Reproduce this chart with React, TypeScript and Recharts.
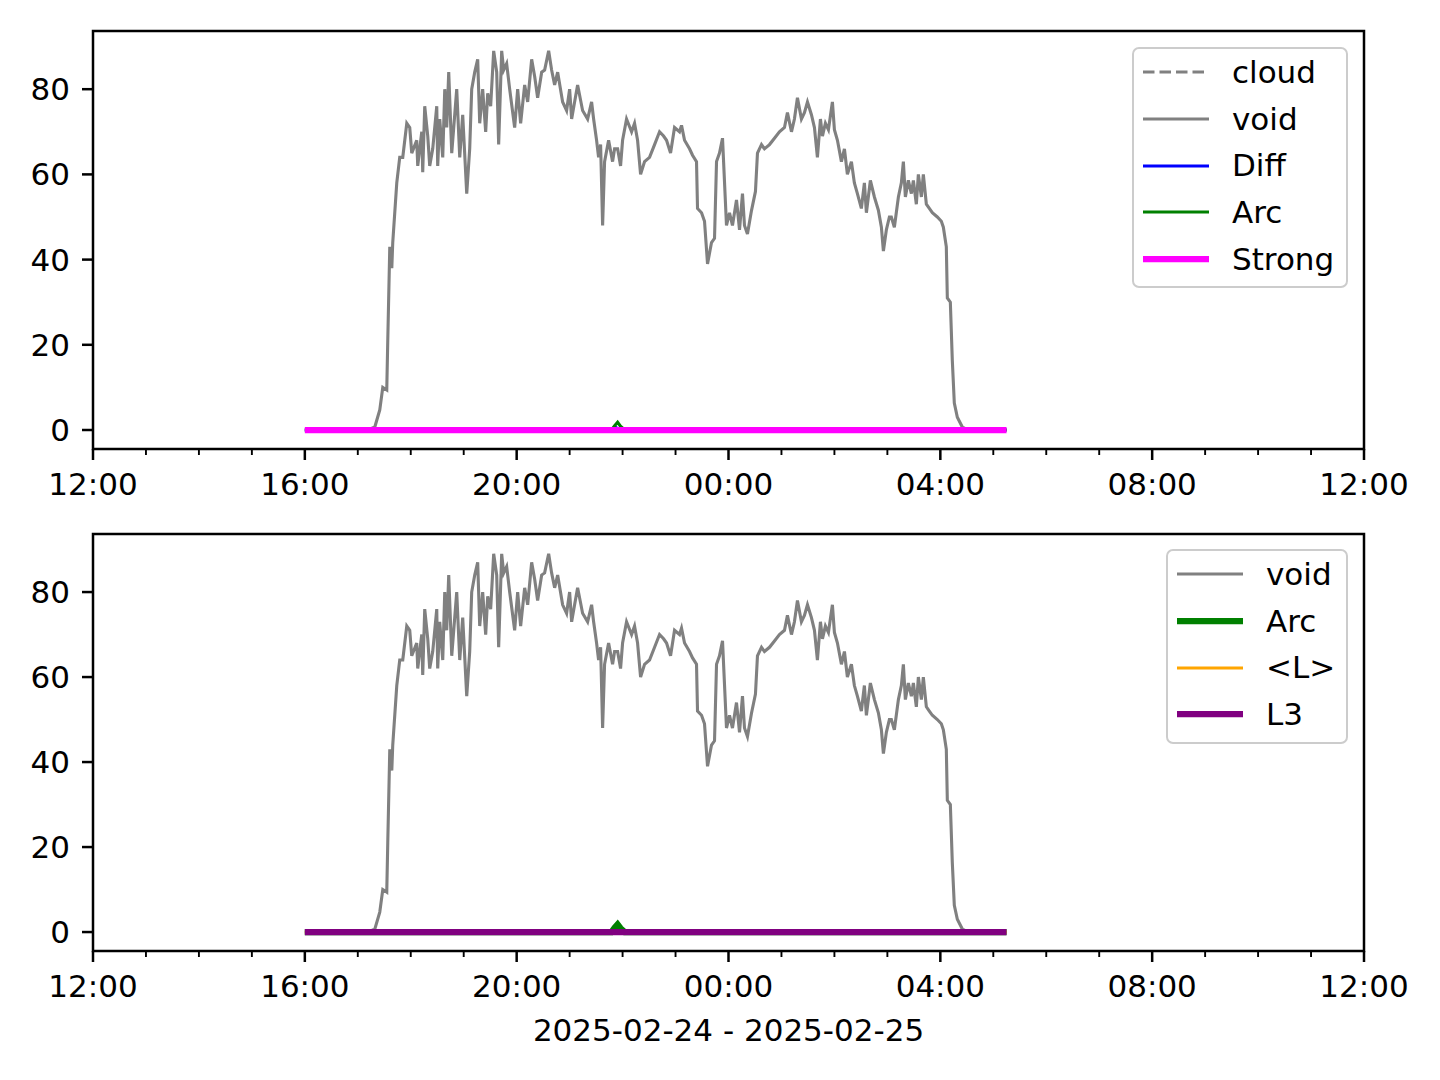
import React from 'react';
import { LineChart, Line, XAxis, YAxis, ReferenceArea, Legend } from 'recharts';

const FONT = '"DejaVu Sans", sans-serif';

// hours after 12:00 on 2025-02-24
const VOID_HOURS = [
  4.0, 5.226, 5.321, 5.415, 5.472, 5.547, 5.566, 5.604, 5.642, 5.66, 5.736, 5.792, 5.849, 5.925, 5.981,
  6.019, 6.113, 6.132, 6.208, 6.226, 6.264, 6.321, 6.358, 6.415, 6.491, 6.509, 6.547, 6.604, 6.642, 6.679,
  6.717, 6.774, 6.868, 6.925, 6.981, 7.057, 7.113, 7.151, 7.208, 7.264, 7.302, 7.358, 7.415, 7.453, 7.509,
  7.566, 7.623, 7.66, 7.717, 7.755, 7.811, 7.868, 7.962, 8.019, 8.075, 8.151, 8.208, 8.283, 8.34, 8.396,
  8.472, 8.528, 8.604, 8.66, 8.717, 8.774, 8.868, 8.943, 9.0, 9.038, 9.094, 9.151, 9.245, 9.34, 9.415,
  9.453, 9.509, 9.547, 9.585, 9.623, 9.66, 9.736, 9.811, 9.849, 9.906, 9.962, 10.0, 10.075, 10.17, 10.226,
  10.283, 10.34, 10.415, 10.509, 10.604, 10.698, 10.774, 10.83, 10.906, 10.981, 11.075, 11.113, 11.17, 11.264, 11.321,
  11.396, 11.415, 11.491, 11.547, 11.604, 11.679, 11.736, 11.774, 11.83, 11.887, 11.962, 12.019, 12.075, 12.151, 12.208,
  12.264, 12.302, 12.358, 12.434, 12.509, 12.547, 12.623, 12.679, 12.774, 12.868, 12.962, 13.057, 13.113, 13.189, 13.245,
  13.302, 13.377, 13.434, 13.491, 13.566, 13.623, 13.679, 13.736, 13.774, 13.83, 13.887, 13.962, 14.0, 14.057, 14.132,
  14.189, 14.245, 14.321, 14.377, 14.434, 14.509, 14.566, 14.604, 14.679, 14.755, 14.83, 14.887, 14.925, 14.981, 15.038,
  15.075, 15.132, 15.208, 15.264, 15.302, 15.34, 15.396, 15.453, 15.491, 15.547, 15.585, 15.642, 15.679, 15.736, 15.792,
  15.849, 15.943, 16.019, 16.057, 16.113, 16.132, 16.189, 16.226, 16.264, 16.321, 16.415, 16.491, 17.25,
];
const VOID_VALUES = [
  0, 0.2, 0.7, 4.7, 10, 9.4, 21, 43, 38, 44, 58, 64, 64, 72, 71,
  65, 68, 62, 70, 60.5, 76, 69, 62, 66, 76, 62, 73, 64, 80, 71,
  84, 65, 80, 64, 74, 55.5, 66, 80, 84, 87, 72, 80, 70, 79, 76,
  89, 84, 67, 89, 84.5, 86, 80, 71, 80, 72, 81, 77, 87, 83, 78,
  84, 84.5, 89, 84.5, 81, 84, 77, 75, 80, 73, 77, 81, 75, 73, 77,
  73, 68, 64, 67, 48, 63, 68, 63, 66, 66, 62, 68, 73, 70, 72,
  68, 60, 63, 64, 67, 70, 69, 68, 65, 71, 70, 71.5, 68, 66, 64.5,
  63, 52, 51, 49, 39, 44, 45, 63, 65, 68.5, 48, 51, 48, 54, 47,
  55.5, 48, 46, 51.5, 56, 65, 67, 66, 67, 68.5, 70, 71, 74.5, 70, 73,
  78, 73, 74.5, 77, 74, 71, 64, 73, 69, 72, 70.5, 77, 70.5, 68, 63,
  66, 60, 63, 58, 55.5, 52, 58, 51, 58.6, 54.7, 51.6, 47.6, 42, 47, 50,
  50, 47.6, 54.7, 58, 63, 54.7, 58.6, 55.5, 58.6, 53, 60, 54.7, 60, 53, 52,
  51, 50, 49, 47.6, 43, 31, 30, 16.4, 6.3, 3, 0.7, 0.2, 0,
];
const ARC_HOURS = [4.0, 9.79, 9.85, 9.906, 9.96, 10.04, 17.25];
const ARC_VALUES = [0, 0, 1.0, 1.8, 0.9, 0, 0];
const DIFF_HOURS = [4.0, 9.8, 9.87, 9.95, 17.25];
const DIFF_VALUES = [0, 0, 0.6, 0, 0];
const FLAT_HOURS = [4.0, 17.25];
const STRONG_VALUES = [0, 0];
const MEAN_L_VALUES = [0, 0];
const L3_VALUES = [0, 0];

const X_DOMAIN = [0, 24];
const X_TICKS = [0, 1, 2, 3, 4, 5, 6, 7, 8, 9, 10, 11, 12, 13, 14, 15, 16, 17, 18, 19, 20, 21, 22, 23, 24];
const Y_DOMAIN = [-4.46, 93.66];
const Y_TICKS = [0, 20, 40, 60, 80];
const DATE_LABEL = '2025-02-24 - 2025-02-25';

const toPoints = (hours: number[], values: number[]) => hours.map((t, i) => ({ t, v: values[i] }));

const fmtHour = (h: number) => {
  const hh = (12 + h) % 24;
  return `${hh < 10 ? '0' : ''}${hh}:00`;
};

const XTick = (props: any) => {
  const { x, y, payload } = props;
  const major = payload.value % 4 === 0;
  return (
    <g>
      <line x1={x} x2={x} y1={y} y2={y + (major ? 11 : 6)} stroke="#000" strokeWidth={major ? 2.5 : 1.9} />
      {major && (
        <text x={x} y={y + 45.5} textAnchor="middle" fontSize={31} fill="#000" fontFamily={FONT}>
          {fmtHour(payload.value)}
        </text>
      )}
    </g>
  );
};

type LegendItem = { name: string; color: string; width: number; dash?: string };

const LegendBox = ({ items, width, height }: { items: LegendItem[]; width: number; height: number }) => (
  <div
    style={{
      width,
      height,
      boxSizing: 'border-box',
      border: '2px solid #cccccc',
      borderRadius: 7,
      background: 'rgba(255,255,255,0.8)',
      paddingLeft: 9,
      fontFamily: FONT,
    }}
  >
    {items.map((it) => (
      <div key={it.name} style={{ display: 'flex', alignItems: 'center', height: 46.7 }}>
        <svg width={66} height={10} style={{ display: 'block' }}>
          <line x1={0} x2={66} y1={5} y2={5} stroke={it.color} strokeWidth={it.width} strokeDasharray={it.dash} />
        </svg>
        <span style={{ marginLeft: 23, fontSize: 31, lineHeight: '31px', color: '#000', whiteSpace: 'pre' }}>{it.name}</span>
      </div>
    ))}
  </div>
);

const TOP_LEGEND: LegendItem[] = [
  { name: 'cloud', color: '#808080', width: 3.1, dash: '11.5 5' },
  { name: 'void', color: '#808080', width: 3.1 },
  { name: 'Diff', color: '#0000ff', width: 3.1 },
  { name: 'Arc', color: '#008000', width: 3.1 },
  { name: 'Strong', color: '#ff00ff', width: 6.25 },
];
const BOTTOM_LEGEND: LegendItem[] = [
  { name: 'void', color: '#808080', width: 3.1 },
  { name: 'Arc', color: '#008000', width: 6.25 },
  { name: '<L>', color: '#ffa500', width: 3.1 },
  { name: 'L3', color: '#800080', width: 6.25 },
];

const voidData = toPoints(VOID_HOURS, VOID_VALUES);
const arcData = toPoints(ARC_HOURS, ARC_VALUES);
const diffData = toPoints(DIFF_HOURS, DIFF_VALUES);
const strongData = toPoints(FLAT_HOURS, STRONG_VALUES);
const meanLData = toPoints(FLAT_HOURS, MEAN_L_VALUES);
const l3Data = toPoints(FLAT_HOURS, L3_VALUES);

const commonAxes = (xHeight: number, label?: string) => [
  <XAxis
    key="x"
    dataKey="t"
    type="number"
    domain={X_DOMAIN}
    ticks={X_TICKS}
    interval={0}
    allowDataOverflow
    axisLine={false}
    tickLine={false}
    tickSize={0}
    tickMargin={0}
    height={xHeight}
    tick={<XTick />}
    label={label ? { value: label, position: 'insideBottom', offset: 39, fontSize: 31, fill: '#000' } : undefined}
  />,
  <YAxis
    key="y"
    type="number"
    domain={Y_DOMAIN}
    ticks={Y_TICKS}
    interval={0}
    allowDataOverflow
    width={93}
    axisLine={false}
    tickLine={{ stroke: '#000', strokeWidth: 2.5 }}
    tickSize={11}
    tickMargin={12}
    tick={{ fontSize: 31, fill: '#000' }}
  />,
];

const Frame = () => (
  <ReferenceArea
    x1={X_DOMAIN[0]}
    x2={X_DOMAIN[1]}
    y1={Y_DOMAIN[0]}
    y2={Y_DOMAIN[1]}
    fill="none"
    fillOpacity={0}
    stroke="#000"
    strokeWidth={2.5}
    ifOverflow="visible"
  />
);

export default function App() {
  return (
    <div
      style={{
        position: 'absolute',
        left: 0,
        top: 0,
        width: 1440,
        height: 1080,
        background: '#fff',
        fontFamily: FONT,
      }}
    >
      <div style={{ position: 'absolute', left: 0, top: 0 }}>
        <LineChart width={1440} height={510} margin={{ top: 31, right: 76, bottom: 0, left: 0 }}>
          {commonAxes(61)}
          <Line data={voidData} dataKey="v" stroke="#808080" strokeWidth={3.1} dot={false} isAnimationActive={false} />
          <Line data={diffData} dataKey="v" stroke="#0000ff" strokeWidth={3.1} dot={false} isAnimationActive={false} />
          <Line data={arcData} dataKey="v" stroke="#008000" strokeWidth={3.1} dot={false} isAnimationActive={false} />
          <Line data={strongData} dataKey="v" stroke="#ff00ff" strokeWidth={6.25} dot={false} isAnimationActive={false} />
          {Frame()}
          <Legend
            layout="vertical"
            align="center"
            verticalAlign="middle"
            wrapperStyle={{ left: 1132, top: 47, width: 216 }}
            content={() => <LegendBox items={TOP_LEGEND} width={216} height={241} />}
          />
        </LineChart>
      </div>
      <div style={{ position: 'absolute', left: 0, top: 503 }}>
        <LineChart width={1440} height={577} margin={{ top: 31, right: 76, bottom: 0, left: 0 }}>
          {commonAxes(129, DATE_LABEL)}
          <Line data={voidData} dataKey="v" stroke="#808080" strokeWidth={3.1} dot={false} isAnimationActive={false} />
          <Line data={arcData} dataKey="v" stroke="#008000" strokeWidth={6.25} dot={false} isAnimationActive={false} />
          <Line data={meanLData} dataKey="v" stroke="#ffa500" strokeWidth={3.1} dot={false} isAnimationActive={false} />
          <Line data={l3Data} dataKey="v" stroke="#800080" strokeWidth={6.25} dot={false} isAnimationActive={false} />
          {Frame()}
          <Legend
            layout="vertical"
            align="center"
            verticalAlign="middle"
            wrapperStyle={{ left: 1166, top: 46, width: 182 }}
            content={() => <LegendBox items={BOTTOM_LEGEND} width={182} height={195} />}
          />
        </LineChart>
      </div>
    </div>
  );
}
